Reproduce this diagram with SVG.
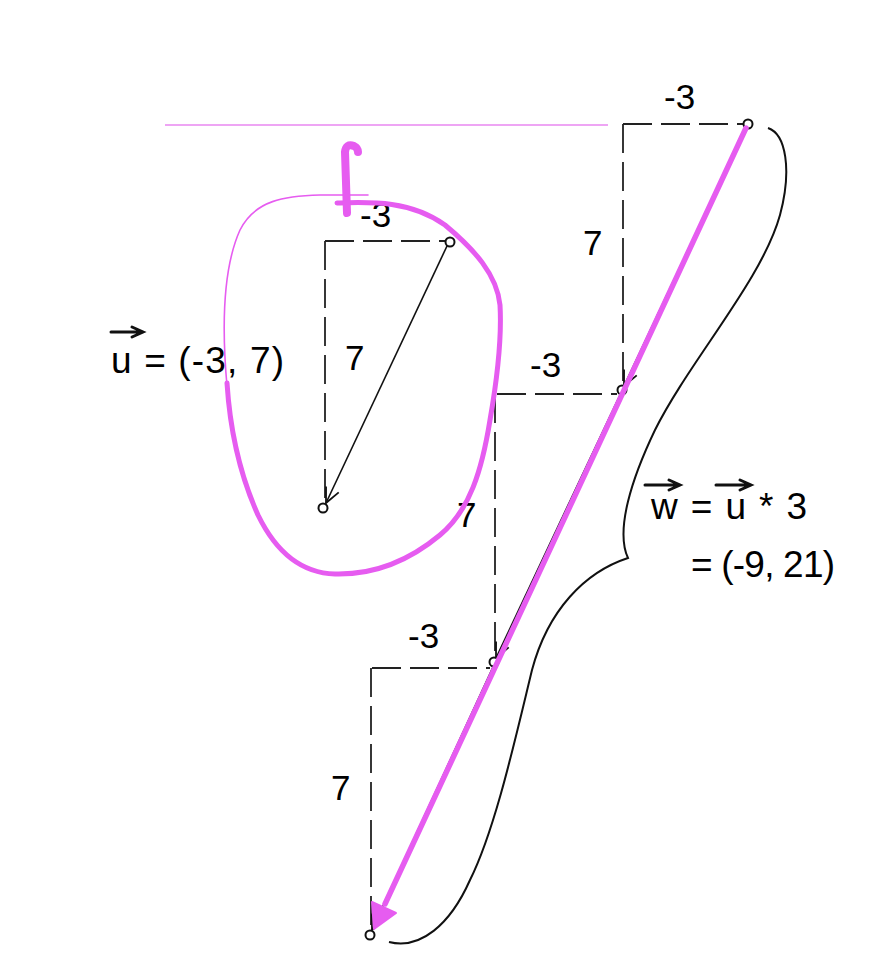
<svg xmlns="http://www.w3.org/2000/svg" width="886" height="964" viewBox="0 0 886 964">
<defs>
<style>
.t{font-family:"Liberation Sans",Arial,sans-serif;font-size:35px;fill:#000}
.l{font-size:37px}
.d{fill:none;stroke:#222;stroke-width:1.8;stroke-dasharray:29 9}
.v{fill:none;stroke:#111;stroke-width:1.6}
.c{fill:#fff;stroke:#111;stroke-width:2}
.m{fill:none;stroke:#e65cf0;stroke-linecap:round;stroke-linejoin:round}
.k{fill:none;stroke:#111;stroke-width:3;stroke-linecap:round}
</style>
<marker id="ah" markerUnits="userSpaceOnUse" viewBox="-20 -10 24 20" refX="0" refY="0" markerWidth="24" markerHeight="20" orient="auto">
<path d="M-15,-7 L0,0 L-15,7" fill="none" stroke="#111" stroke-width="1.8"/>
</marker>
</defs>
<rect width="886" height="964" fill="#fff"/>

<g id="guide">
<line x1="165" y1="125" x2="608" y2="125" stroke="#e987f0" stroke-width="1.3"/>
</g>

<g id="vector-u">
<line class="d" x1="325" y1="241" x2="446" y2="241"/>
<line class="d" x1="325" y1="241" x2="325" y2="502"/>
<line class="v" x1="447" y1="246" x2="326" y2="503" marker-end="url(#ah)"/>
<circle class="c" cx="450" cy="242" r="4.5"/>
<circle class="c" cx="323" cy="508" r="4.5"/>
<text class="t" x="360" y="227">-3</text>
<text class="t" x="345" y="370">7</text>
</g>

<g id="step1">
<line class="d" x1="623" y1="124" x2="743" y2="124"/>
<line class="d" x1="623" y1="124" x2="623" y2="385"/>
<line class="v" x1="745" y1="129" x2="624" y2="386" marker-end="url(#ah)"/>
<circle class="c" cx="748" cy="124" r="4.5"/>
<text class="t" x="664" y="109">-3</text>
<text class="t" x="583" y="255">7</text>
</g>

<g id="step2">
<line class="d" x1="497" y1="394" x2="617" y2="394"/>
<line class="d" x1="495" y1="394" x2="495" y2="657"/>
<line class="v" x1="620" y1="395" x2="496" y2="658" marker-end="url(#ah)"/>
<circle class="c" cx="622" cy="390" r="4.5"/>
<text class="t" x="530" y="377">-3</text>
<text class="t" x="457" y="527">7</text>
</g>

<g id="step3">
<line class="d" x1="372" y1="668" x2="490" y2="668"/>
<line class="d" x1="371" y1="668" x2="371" y2="929"/>
<line class="v" x1="493" y1="667" x2="372" y2="930" marker-end="url(#ah)"/>
<circle class="c" cx="494" cy="662" r="4.5"/>
<circle class="c" cx="370" cy="935" r="4.5"/>
<text class="t" x="408" y="648">-3</text>
<text class="t" x="331" y="800">7</text>
</g>

<g id="connectors">
<line class="m" x1="746" y1="128" x2="385" y2="904" stroke-width="5.5"/>
<polygon points="374,929 396,913 372,902" fill="#e65cf0" stroke="#e65cf0" stroke-width="2" stroke-linejoin="round"/>
</g>

<g id="brace">
<path d="M768,128 C786,134 792,170 780,215 C762,280 690,360 655,430 C632,478 615,530 628,558 C585,572 548,610 532,670 C515,740 495,830 470,880 C450,925 420,950 389,942" fill="none" stroke="#111" stroke-width="2"/>
</g>

<g id="highlight">
<path class="m" stroke-width="5" d="M337,203 C370,202 410,200 445,225 C475,250 497,275 500,305 C502,340 497,380 490,420 C482,470 470,510 440,535 C410,560 375,575 335,574 C300,573 275,550 258,515 C240,475 230,430 227,383"/>
<path class="m" stroke-width="1.6" d="M227,386 C222,330 222,270 240,230 C255,200 285,196 320,195 L368,195"/>
<path class="m" stroke-width="8" d="M347,213 L345,152 Q346,143 354,146 Q358,148 358,152"/>
</g>

<g id="label-u">
<text class="t l" x="111" y="373" textLength="173" lengthAdjust="spacing">u = (-3, 7)</text>
<path class="k" d="M111,332 L142,332 M132,327 L143,332 L132,337"/>
</g>

<g id="label-w">
<text class="t l" x="651" y="519" textLength="156" lengthAdjust="spacing">w = u * 3</text>
<text class="t l" x="691" y="577" textLength="144" lengthAdjust="spacing">= (-9, 21)</text>
<path class="k" d="M645,485 L679,485 M669,480 L680,485 L669,490"/>
<path class="k" d="M716,485 L750,485 M740,480 L751,485 L740,490"/>
</g>
</svg>
